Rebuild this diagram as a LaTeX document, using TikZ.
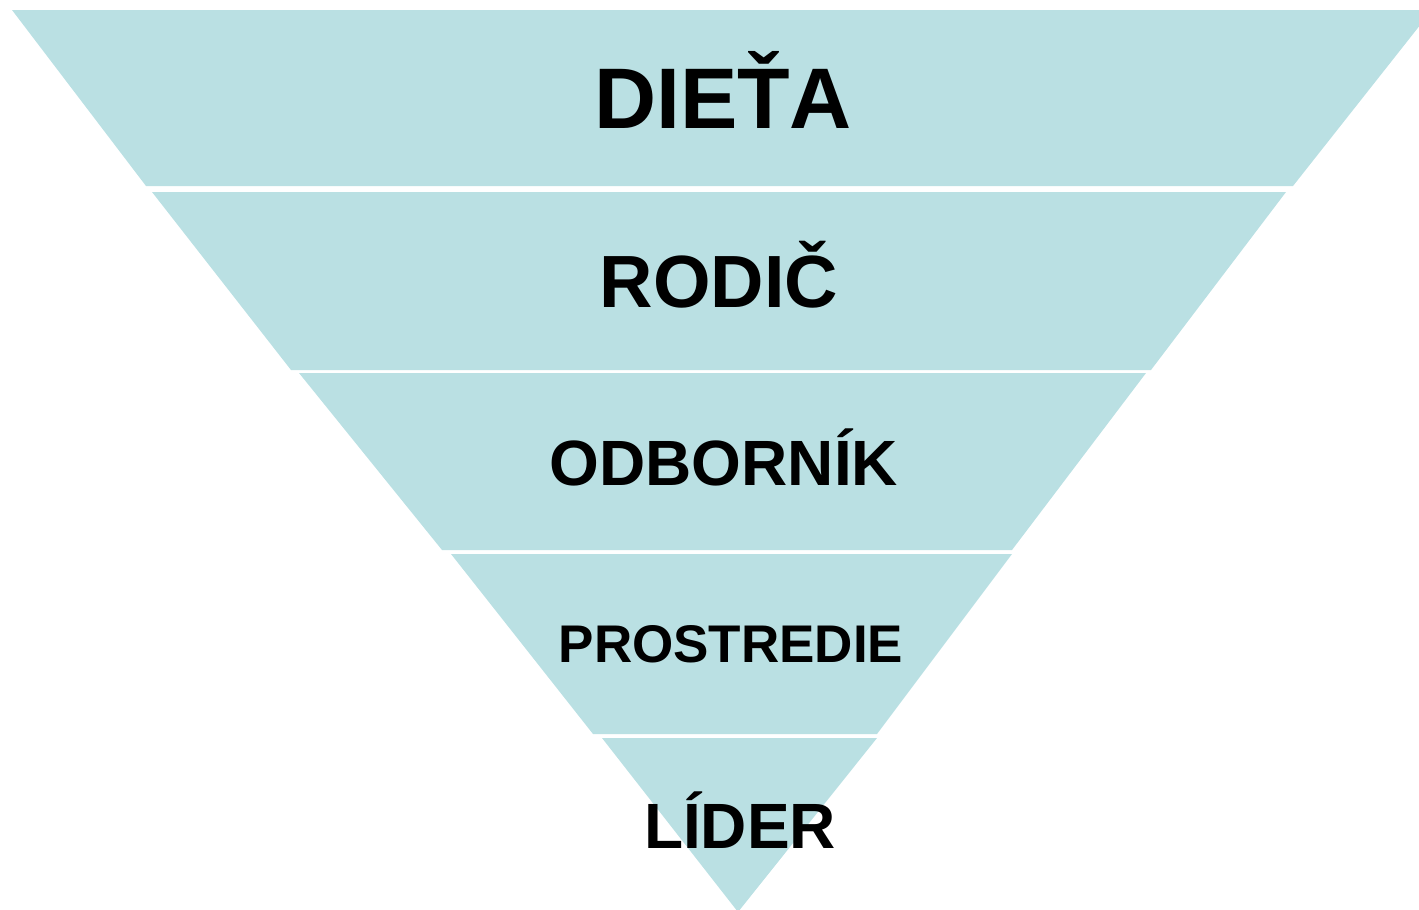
\documentclass[tikz,border=0pt]{standalone}
\usepackage{fontspec}
\setmainfont{Liberation Sans}
\definecolor{band}{HTML}{BAE0E3}
\begin{document}
\begin{tikzpicture}[x=1pt,y=-1pt,
  bandfill/.style={fill=band},
  lbl/.style={anchor=base,inner sep=0pt,font=\bfseries}]
\useasboundingbox (0,0) rectangle (1419,910);
\clip (0,0) rectangle (1419,910);
\fill[bandfill] (12,10) -- (1432,10) -- (1293,186) -- (146,186) -- cycle;
\fill[bandfill] (152,192) -- (1286,192) -- (1151,370) -- (291,370) -- cycle;
\fill[bandfill] (299,373) -- (1146,373) -- (1012,550) -- (442,550) -- cycle;
\fill[bandfill] (451,554) -- (1012,554) -- (877,734) -- (593,734) -- cycle;
\fill[bandfill] (602,738) -- (877,738) -- (738,912) -- cycle;
\node[lbl,font=\bfseries\fontsize{86}{86}\selectfont] (t1) at (723,128) {DIEŤA};
\node[lbl,font=\bfseries\fontsize{74}{74}\selectfont] (t2) at (719,307) {RODIČ};
\node[lbl,font=\bfseries\fontsize{64}{64}\selectfont] (t3) at (724,485) {ODBORNÍK};
\node[lbl,font=\bfseries\fontsize{53}{53}\selectfont] (t4) at (731,662) {PROSTREDIE};
\node[lbl,font=\bfseries\fontsize{64}{64}\selectfont] (t5) at (740,848) {LÍDER};
\end{tikzpicture}
\end{document}
